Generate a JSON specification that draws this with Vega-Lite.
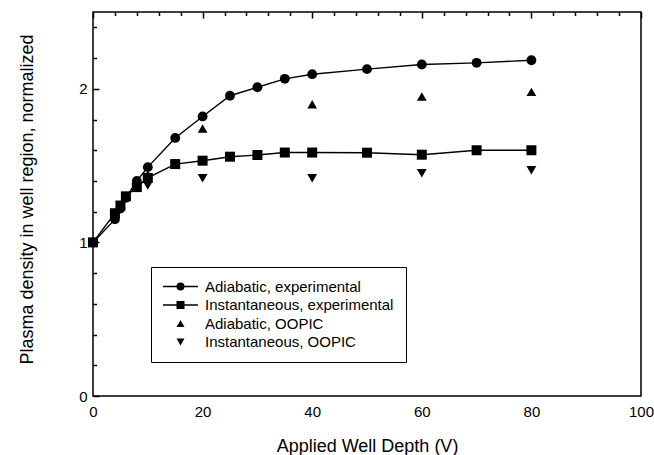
{
  "$schema": "https://vega.github.io/schema/vega-lite/v6.json",
  "autosize": {"type": "none"},
  "padding": {"left": 93, "top": 12, "right": 13, "bottom": 59},
  "width": 548,
  "height": 384,
  "config": {
    "font": "Liberation Sans",
    "view": {"stroke": "black", "strokeWidth": 1.5},
    "axis": {"domain": false, "ticks": false, "tickSize": 0, "grid": true, "gridColor": "black", "gridOpacity": 1, "gridWidth": 1.5, "labelColor": "black", "titleColor": "black", "titleFontWeight": "normal", "labelOverlap": false, "labelFlush": false}
  },
  "data": {
    "values": [
      {"series": "Adiabatic, experimental", "v": 0, "n": 1.0},
      {"series": "Adiabatic, experimental", "v": 4, "n": 1.15},
      {"series": "Adiabatic, experimental", "v": 5, "n": 1.22},
      {"series": "Adiabatic, experimental", "v": 6, "n": 1.29},
      {"series": "Adiabatic, experimental", "v": 8, "n": 1.40},
      {"series": "Adiabatic, experimental", "v": 10, "n": 1.49},
      {"series": "Adiabatic, experimental", "v": 15, "n": 1.68},
      {"series": "Adiabatic, experimental", "v": 20, "n": 1.82},
      {"series": "Adiabatic, experimental", "v": 25, "n": 1.955},
      {"series": "Adiabatic, experimental", "v": 30, "n": 2.01},
      {"series": "Adiabatic, experimental", "v": 35, "n": 2.065},
      {"series": "Adiabatic, experimental", "v": 40, "n": 2.095},
      {"series": "Adiabatic, experimental", "v": 50, "n": 2.128},
      {"series": "Adiabatic, experimental", "v": 60, "n": 2.158},
      {"series": "Adiabatic, experimental", "v": 70, "n": 2.169},
      {"series": "Adiabatic, experimental", "v": 80, "n": 2.186},
      {"series": "Instantaneous, experimental", "v": 0, "n": 1.0},
      {"series": "Instantaneous, experimental", "v": 4, "n": 1.19},
      {"series": "Instantaneous, experimental", "v": 5, "n": 1.24},
      {"series": "Instantaneous, experimental", "v": 6, "n": 1.30},
      {"series": "Instantaneous, experimental", "v": 8, "n": 1.36},
      {"series": "Instantaneous, experimental", "v": 10, "n": 1.42},
      {"series": "Instantaneous, experimental", "v": 15, "n": 1.51},
      {"series": "Instantaneous, experimental", "v": 20, "n": 1.532},
      {"series": "Instantaneous, experimental", "v": 25, "n": 1.558},
      {"series": "Instantaneous, experimental", "v": 30, "n": 1.569},
      {"series": "Instantaneous, experimental", "v": 35, "n": 1.585},
      {"series": "Instantaneous, experimental", "v": 40, "n": 1.585},
      {"series": "Instantaneous, experimental", "v": 50, "n": 1.584},
      {"series": "Instantaneous, experimental", "v": 60, "n": 1.571},
      {"series": "Instantaneous, experimental", "v": 70, "n": 1.60},
      {"series": "Instantaneous, experimental", "v": 80, "n": 1.60},
      {"series": "Adiabatic, OOPIC", "v": 10, "n": 1.44},
      {"series": "Adiabatic, OOPIC", "v": 20, "n": 1.742},
      {"series": "Adiabatic, OOPIC", "v": 40, "n": 1.90},
      {"series": "Adiabatic, OOPIC", "v": 60, "n": 1.95},
      {"series": "Adiabatic, OOPIC", "v": 80, "n": 1.98},
      {"series": "Instantaneous, OOPIC", "v": 10, "n": 1.37},
      {"series": "Instantaneous, OOPIC", "v": 20, "n": 1.418},
      {"series": "Instantaneous, OOPIC", "v": 40, "n": 1.418},
      {"series": "Instantaneous, OOPIC", "v": 60, "n": 1.45},
      {"series": "Instantaneous, OOPIC", "v": 80, "n": 1.47}
    ]
  },
  "layer": [
    {
      "transform": [{"filter": "indexof(datum.series, 'experimental') >= 0"}],
      "mark": {"type": "line", "strokeWidth": 1.4},
      "encoding": {
        "x": {
          "field": "v", "type": "quantitative",
          "scale": {"domain": [0, 100], "nice": false, "zero": false},
          "axis": {
            "orient": "bottom",
            "values": [0, 4, 8, 12, 16, 20, 24, 28, 32, 36, 40, 44, 48, 52, 56, 60, 64, 68, 72, 76, 80, 84, 88, 92, 96, 100],
            "gridDash": {"condition": {"test": "datum.value % 20 === 0", "value": [6, 1000]}, "value": [3.5, 1000]},
            "labelExpr": "datum.value % 20 === 0 ? datum.label : ''",
            "labelFontSize": 15,
            "labelPadding": 8,
            "title": "Applied Well Depth (V)",
            "titleFontSize": 18,
            "titleBaseline": "alphabetic",
            "titleY": 55
          }
        },
        "y": {
          "field": "n", "type": "quantitative",
          "scale": {"domain": [0, 2.5], "nice": false, "zero": false},
          "axis": {
            "orient": "left",
            "values": [0, 0.2, 0.4, 0.6, 0.8, 1, 1.2, 1.4, 1.6, 1.8, 2, 2.2, 2.4],
            "gridDash": {"condition": {"test": "datum.value % 1 === 0", "value": [6, 1000]}, "value": [3.5, 1000]},
            "labelExpr": "datum.value % 1 === 0 ? toString(datum.value) : ''",
            "labelFontSize": 15,
            "labelPadding": 6,
            "title": "Plasma density in well region, normalized",
            "titleFontSize": 18,
            "titleBaseline": "alphabetic",
            "titleAngle": -90,
            "titleAlign": "center",
            "titleX": -61,
            "titleY": 187
          }
        },
        "color": {
          "field": "series", "type": "nominal",
          "scale": {"range": ["black", "black"]},
          "legend": {
            "orient": "none",
            "legendX": 58,
            "legendY": 255,
            "title": null,
            "direction": "vertical",
            "padding": 12,
            "labelFontSize": 15,
            "labelOpacity": 0,
            "labelLimit": 400,
            "symbolType": "M-4.375,0H4.375",
            "symbolSize": 64,
            "symbolStrokeWidth": 1.4,
            "symbolOffset": 10,
            "labelOffset": 17,
            "rowPadding": 2.5
          }
        }
      }
    },
    {
      "mark": {"type": "point", "filled": true, "color": "black", "opacity": 1},
      "encoding": {
        "x": {
          "field": "v", "type": "quantitative",
          "scale": {"domain": [0, 100], "nice": false, "zero": false},
          "axis": {
            "orient": "top",
            "values": [0, 4, 8, 12, 16, 20, 24, 28, 32, 36, 40, 44, 48, 52, 56, 60, 64, 68, 72, 76, 80, 84, 88, 92, 96, 100],
            "gridDash": {"condition": {"test": "datum.value % 20 === 0", "value": [6, 1000]}, "value": [3.5, 1000]},
            "labels": false,
            "title": null
          }
        },
        "y": {
          "field": "n", "type": "quantitative",
          "scale": {"domain": [0, 2.5], "nice": false, "zero": false},
          "axis": {
            "orient": "right",
            "values": [0, 0.2, 0.4, 0.6, 0.8, 1, 1.2, 1.4, 1.6, 1.8, 2, 2.2, 2.4],
            "gridDash": {"condition": {"test": "datum.value % 1 === 0", "value": [6, 1000]}, "value": [3.5, 1000]},
            "labels": false,
            "title": null
          }
        },
        "shape": {
          "field": "series", "type": "nominal",
          "scale": {
            "domain": ["Adiabatic, experimental", "Instantaneous, experimental", "Adiabatic, OOPIC", "Instantaneous, OOPIC"],
            "range": ["circle", "square", "triangle-up", "triangle-down"]
          },
          "legend": {
            "orient": "none",
            "legendX": 58,
            "legendY": 255,
            "title": null,
            "direction": "vertical",
            "padding": 12,
            "strokeColor": "black",
            "labelFontSize": 15,
            "labelColor": "black",
            "labelLimit": 400,
            "symbolOffset": 10,
            "labelOffset": 17,
            "rowPadding": 2.5,
            "symbolSize": 64,
            "symbolStrokeWidth": 1,
            "symbolFillColor": "black",
            "symbolOpacity": 1
          }
        },
        "size": {
          "field": "series", "type": "nominal",
          "scale": {"range": [95, 100, 95, 70]},
          "legend": null
        }
      }
    }
  ],
  "resolve": {"axis": {"x": "independent", "y": "independent"}}
}
